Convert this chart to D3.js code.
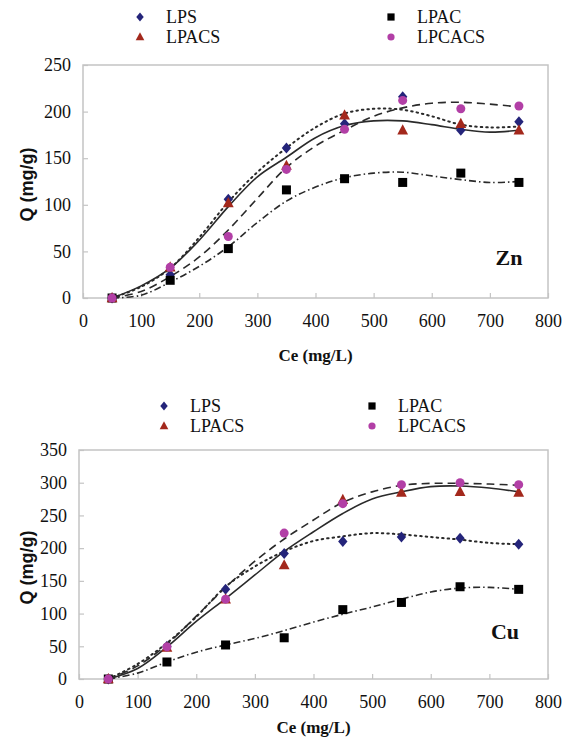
<!DOCTYPE html>
<html>
<head>
<meta charset="utf-8">
<script src="https://cdn.jsdelivr.net/npm/d3@7/dist/d3.min.js"></script>
<style>
  body { margin: 0; background: #fff; }
  svg text { fill: #111; }
</style>
</head>
<body>
<svg id="chart" width="566" height="738"></svg>
<script>
const serif = "'Liberation Serif', 'DejaVu Serif', serif";

// measured points (Ce, mg/L)
const ceValues = [50, 150, 250, 350, 450, 550, 650, 750];
// points
const fitCe = [50, 100, 150, 200, 250, 300, 350, 400, 450, 500, 550, 600, 650, 700, 750];

const seriesNames = ["LPS", "LPAC", "LPACS", "LPCACS"];
const seriesColors = ["#24247a", "#000000", "#a3281c", "#b23fa6"];
const seriesShapes = ["diamond", "square", "triangle", "circle"];
const seriesDash = ["1.5,4", "7,3,1.5,3", null, "8,5"];

const xTicks = [0, 100, 200, 300, 400, 500, 600, 700, 800];
const znYTicks = [0, 50, 100, 150, 200, 250];
const cuYTicks = [0, 50, 100, 150, 200, 250, 300, 350];

// Zn
const znLPS = [0, 25, 106, 161, 187, 216, 180, 189];
const znLPAC = [0, 19, 53, 116, 128, 124, 134, 124];
const znLPACS = [0, 33, 102, 142, 196, 180, 187, 180];
const znLPCACS = [0, 33, 66, 138, 181, 212, 203, 206];

const znFitLPS = [0, 12, 32, 65, 103, 135, 161, 183, 198, 203, 202, 195, 186, 183, 184];
const znFitLPAC = [0, 3, 17, 34, 55, 81, 104, 119, 129, 134, 135, 131, 127, 124, 125];
const znFitLPACS = [0, 13, 32, 62, 98, 130, 151, 172, 185, 190, 190, 186, 181, 178, 180];
const znFitLPCACS = [0, 7, 23, 44, 73, 107, 140, 163, 180, 195, 204, 209, 210, 208, 205];

// Cu
const cuLPS = [0, 50, 137, 192, 210, 217, 215, 206];
const cuLPAC = [0, 26, 52, 63, 106, 117, 141, 137];
const cuLPACS = [0, 48, 122, 174, 274, 285, 286, 285];
const cuLPCACS = [0, 49, 122, 223, 268, 297, 300, 297];

const cuFitLPS = [0, 23, 55, 95, 141, 172, 195, 211, 218, 223, 221, 217, 213, 208, 206];
const cuFitLPAC = [0, 9, 26, 41, 52, 62, 74, 87, 99, 110, 122, 133, 139, 140, 137];
const cuFitLPACS = [0, 16, 49, 88, 123, 159, 195, 225, 253, 275, 286, 294, 295, 292, 286];
const cuFitLPCACS = [0, 20, 53, 96, 140, 180, 214, 243, 270, 286, 296, 299, 299, 298, 296];

const svg = d3.select("#chart");

drawPanel({
  left: 83, right: 548, top: 65, bottom: 298,
  yMax: 250, yTicks: znYTicks,
  points: [znLPS, znLPAC, znLPACS, znLPCACS],
  fits: [znFitLPS, znFitLPAC, znFitLPACS, znFitLPCACS],
  metal: "Zn", metalPos: [509, 265],
  titleY: 361,
  legendY: 17, legendX: [140, 391]
});

drawPanel({
  left: 79, right: 548, top: 450, bottom: 679,
  yMax: 350, yTicks: cuYTicks,
  points: [cuLPS, cuLPAC, cuLPACS, cuLPCACS],
  fits: [cuFitLPS, cuFitLPAC, cuFitLPACS, cuFitLPCACS],
  metal: "Cu", metalPos: [505, 639],
  titleY: 733,
  legendY: 406, legendX: [164, 372]
});

function drawPanel(p) {
  const x = d3.scaleLinear().domain([0, 800]).range([p.left, p.right]);
  const y = d3.scaleLinear().domain([0, p.yMax]).range([p.bottom, p.top]);

  // plot frame
  svg.append("rect")
    .attr("x", p.left).attr("y", p.top)
    .attr("width", p.right - p.left).attr("height", p.bottom - p.top)
    .attr("fill", "none").attr("stroke", "#c4c4c4").attr("stroke-width", 1.5);

  const xAxis = svg.append("g")
    .attr("transform", `translate(0,${p.bottom})`)
    .call(d3.axisBottom(x).tickValues(xTicks).tickSize(-5).tickPadding(16));
  const yAxis = svg.append("g")
    .attr("transform", `translate(${p.left},0)`)
    .call(d3.axisLeft(y).tickValues(p.yTicks).tickSize(-5).tickPadding(12));

  [xAxis, yAxis].forEach(a => {
    a.attr("font-family", serif);
    a.select(".domain").remove();
    a.selectAll(".tick line").attr("stroke", "#c4c4c4").attr("stroke-width", 1.2);
    a.selectAll(".tick text").attr("font-size", 18).attr("fill", "#111")
      .style("font-family", serif);
  });

  // axis titles
  svg.append("text")
    .attr("x", (p.left + p.right) / 2).attr("y", p.titleY)
    .attr("text-anchor", "middle").attr("font-size", 17).attr("font-weight", "bold")
    .style("font-family", serif)
    .text("Ce (mg/L)");
  svg.append("text")
    .attr("transform", `translate(33,${(p.top + p.bottom) / 2 + 3}) rotate(-90)`)
    .attr("text-anchor", "middle").attr("font-size", 18).attr("font-weight", "bold")
    .style("font-family", "'Liberation Sans', Arial, sans-serif")
    .text("Q (mg/g)");

  svg.append("text")
    .attr("x", p.metalPos[0]).attr("y", p.metalPos[1])
    .attr("text-anchor", "middle").attr("font-size", 22).attr("font-weight", "bold")
    .style("font-family", serif)
    .text(p.metal);

  // fitted curves
  const line = d3.line()
    .x((d, i) => x(fitCe[i]))
    .y(d => y(d))
    .curve(d3.curveCatmullRom.alpha(0.5));

  p.fits.forEach((f, s) => {
    svg.append("path")
      .datum(f)
      .attr("d", line)
      .attr("fill", "none")
      .attr("stroke", "#2a2a2a")
      .attr("stroke-width", s === 0 ? 2 : 1.6)
      .attr("stroke-linecap", s === 0 ? "round" : "butt")
      .attr("stroke-dasharray", seriesDash[s]);
  });

  // markers
  p.points.forEach((vals, s) => {
    vals.forEach((v, i) => {
      drawMarker(seriesShapes[s], x(ceValues[i]), y(v), seriesColors[s]);
    });
  });

  // legend
  seriesNames.forEach((name, s) => {
    const lx = p.legendX[s % 2 === 0 ? 0 : 1];
    const ly = p.legendY + (s < 2 ? 0 : 20);
    drawMarker(seriesShapes[s], lx, ly, seriesColors[s], 0.8);
    svg.append("text")
      .attr("x", lx + 26).attr("y", ly + 6)
      .attr("font-size", 18)
      .style("font-family", serif)
      .text(name);
  });
}

function drawMarker(shape, cx, cy, color, k = 1) {
  if (shape === "circle") {
    svg.append("circle").attr("cx", cx).attr("cy", cy).attr("r", 4.5 * k).attr("fill", color);
  } else if (shape === "square") {
    const s = 9 * k;
    svg.append("rect").attr("x", cx - s / 2).attr("y", cy - s / 2)
      .attr("width", s).attr("height", s).attr("fill", color);
  } else if (shape === "diamond") {
    const r = 5.5 * k;
    svg.append("path")
      .attr("d", `M${cx},${cy - r}L${cx + r * 0.85},${cy}L${cx},${cy + r}L${cx - r * 0.85},${cy}Z`)
      .attr("fill", color);
  } else {
    const r = 6 * k;
    svg.append("path")
      .attr("d", `M${cx},${cy - r}L${cx + r * 0.9},${cy + r * 0.7}L${cx - r * 0.9},${cy + r * 0.7}Z`)
      .attr("fill", color);
  }
}
</script>
</body>
</html>
